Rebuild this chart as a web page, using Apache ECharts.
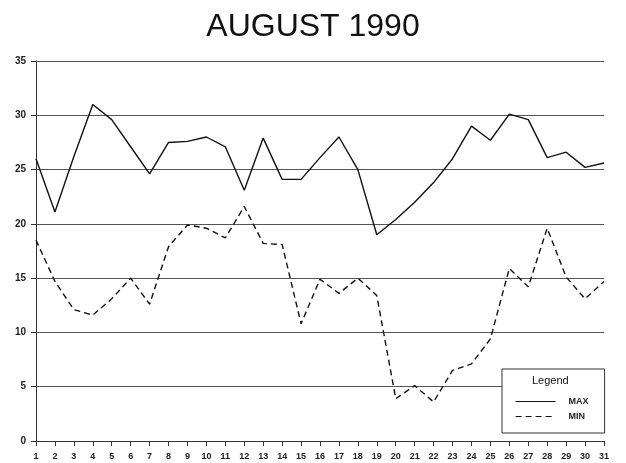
<!DOCTYPE html>
<html>
<head>
<meta charset="utf-8">
<script src="https://cdn.jsdelivr.net/npm/echarts@6/dist/echarts.min.js"></script>
<style>
  html, body { margin: 0; padding: 0; background: #fff; }
  #chart { width: 626px; height: 463px; }
</style>
</head>
<body>
<div id="chart"></div>
<script>
const days = Array.from({ length: 31 }, (_, i) => String(i + 1))
const maxTemps = [26.0, 21.1, 26.2, 31.0, 29.6, 27.1, 24.6, 27.5, 27.6, 28.0, 27.1, 23.1, 27.9, 24.1, 24.1, 26.1,
  28.0, 25.0, 19.0, 20.4, 22.0, 23.8, 26.0, 29.0, 27.7, 30.1, 29.6, 26.1, 26.6, 25.2, 25.6]
const minTemps = [18.5, 14.7, 12.1, 11.6, 13.1, 15.0, 12.6, 17.9, 19.9, 19.6, 18.7, 21.6, 18.2, 18.1, 10.8, 14.9,
  13.6, 15.0, 13.4, 3.9, 5.1, 3.6, 6.5, 7.1, 9.4, 15.9, 14.2, 19.6, 15.1, 13.1, 14.7]

const chart = echarts.init(document.getElementById('chart'), null, { renderer: 'canvas' })

chart.setOption({
  animation: false,
  textStyle: { fontFamily: 'Liberation Sans, Arial, sans-serif' },
  title: {
    text: 'AUGUST 1990',
    left: 'center',
    top: 6,
    textStyle: { fontSize: 32, fontWeight: 'normal', color: '#111' },
  },
  grid: { left: 36, right: 22, top: 61, bottom: 22 },
  xAxis: {
    type: 'category',
    data: days,
    boundaryGap: false,
    axisLine: { lineStyle: { color: '#333', width: 1 } },
    axisTick: { show: true, length: 5, lineStyle: { color: '#333' } },
    axisLabel: { color: '#222', fontSize: 9, fontWeight: 'bold', margin: 11, interval: 0 },
    splitLine: { show: false },
  },
  yAxis: {
    type: 'value',
    min: 0,
    max: 35,
    interval: 5,
    axisLine: { show: true, lineStyle: { color: '#333', width: 1 } },
    axisTick: { show: true, length: 5, lineStyle: { color: '#333' } },
    axisLabel: { color: '#222', fontSize: 10, fontWeight: 'bold', margin: 10 },
    splitLine: { lineStyle: { color: '#555', width: 1 } },
  },
  legend: {
    orient: 'vertical',
    left: 502,
    top: 369,
    padding: [28, 16, 12, 13],
    backgroundColor: '#fff',
    borderColor: '#333',
    borderWidth: 1,
    borderRadius: 0,
    itemWidth: 40,
    itemHeight: 10,
    itemGap: 6,
    itemStyle: { opacity: 0 },
    lineStyle: { width: 1.2 },
    textStyle: { fontSize: 9, color: '#222', fontWeight: 'bold', padding: [0, 0, 0, 8] },
    data: ['MAX', 'MIN'],
  },
  graphic: [
    {
      type: 'text',
      left: 532,
      top: 375,
      z: 100,
      style: { text: 'Legend', fill: '#111', fontSize: 11, fontFamily: 'Liberation Sans, Arial, sans-serif' },
    },
  ],
  series: [
    {
      name: 'MAX',
      type: 'line',
      data: maxTemps,
      symbol: 'none',
      lineStyle: { color: '#111', width: 1.4 },
      itemStyle: { color: '#111' },
    },
    {
      name: 'MIN',
      type: 'line',
      data: minTemps,
      symbol: 'none',
      lineStyle: { color: '#111', width: 1.4, type: [6, 4] },
      itemStyle: { color: '#111' },
    },
  ],
})
</script>
</body>
</html>
